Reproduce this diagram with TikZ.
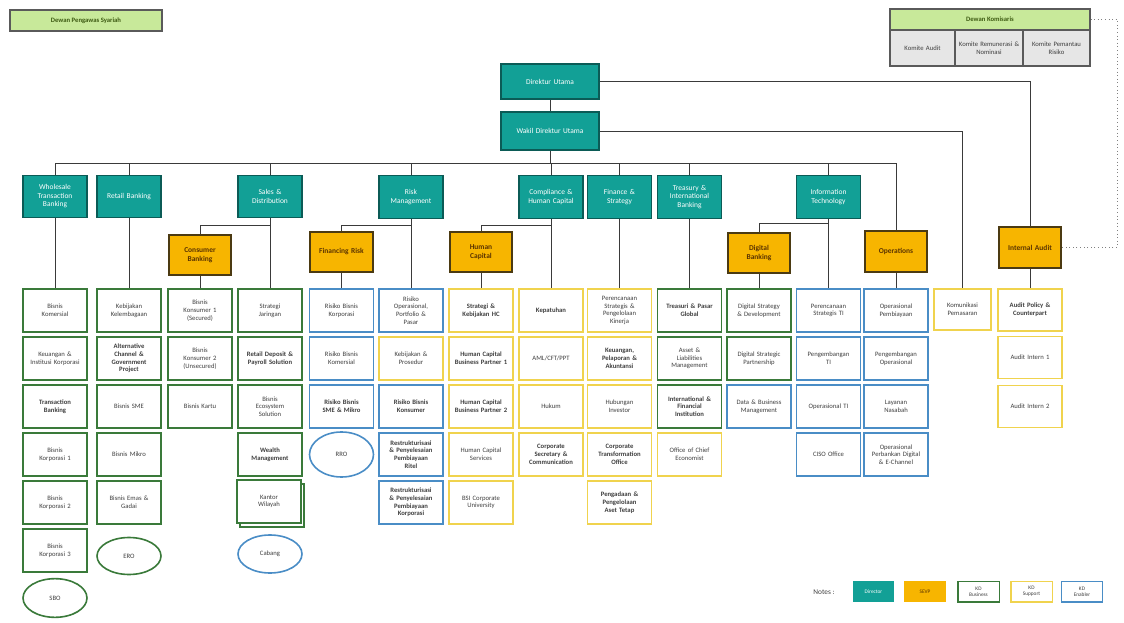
\documentclass[tikz,border=0pt]{standalone}
\usepackage{fontspec}
\setmainfont{Carlito}
\usepackage{xcolor}
\usetikzlibrary{shapes.geometric,shadows}

\definecolor{dirteal}{HTML}{12A096}
\definecolor{dirline}{HTML}{0B5B56}
\definecolor{sevpgold}{HTML}{F7B500}
\definecolor{sevpline}{HTML}{4B3A12}
\definecolor{sevptext}{HTML}{5A3300}
\definecolor{bizline}{HTML}{3A7A3A}
\definecolor{supline}{HTML}{F0D34E}
\definecolor{enaline}{HTML}{4A8DC6}
\definecolor{unittext}{HTML}{3F3F3F}
\definecolor{dpsgreen}{HTML}{C8E99A}
\definecolor{dpstext}{HTML}{3D5A12}
\definecolor{komgray}{HTML}{E6E6E6}
\definecolor{komline}{HTML}{5A5A5A}
\definecolor{linegray}{HTML}{3A3A3A}

\newcommand{\unitfont}{\fontsize{5}{5.8}\selectfont}
\newcommand{\headfont}{\fontsize{5.6}{6.4}\selectfont}
\newcommand{\legendfont}{\fontsize{4}{4.6}\selectfont}

\tikzset{
  unitbox/.style={draw, fill=white, line width=1.3pt, minimum width=48pt, minimum height=32pt, text width=44pt, align=center, inner sep=1pt, font=\unitfont, text=unittext},
  bizbox/.style={unitbox, draw=bizline},
  supbox/.style={unitbox, draw=supline},
  enabox/.style={unitbox, draw=enaline},
  boldtext/.style={font=\unitfont\bfseries},
  unitoval/.style={ellipse, draw, fill=white, line width=1.2pt, minimum width=48pt, minimum height=29pt, inner sep=0pt, font=\unitfont, text=unittext},
  dirbox/.style={draw=dirline, fill=dirteal, line width=0.9pt, minimum width=48pt, minimum height=32pt, text width=44pt, align=center, inner sep=1pt, font=\headfont, text=white},
  sevpbox/.style={draw=sevpline, fill=sevpgold, line width=1.3pt, minimum width=47pt, minimum height=30.5pt, text width=44pt, align=center, inner sep=1pt, font=\headfont\bfseries, text=sevptext},
  legendbox/.style={line width=1pt, minimum width=31pt, minimum height=15.5pt, text width=30pt, align=center, inner sep=0.5pt, font=\legendfont},
  connector/.style={draw=linegray, line width=0.7pt},
}

\begin{document}
\begin{tikzpicture}[x=0.75pt,y=0.75pt,yscale=-1,xscale=1]
\useasboundingbox (0,0) rectangle (1124,623);

% Text Node
\node[draw=komline, fill=dpsgreen, line width=0.8pt, minimum width=114pt, minimum height=15.75pt, font=\unitfont\bfseries, text=dpstext] (dps) at (86,20.5) {Dewan Pengawas Syariah};
% Text Node
\node[draw=komline, fill=dpsgreen, line width=0.8pt, minimum width=150pt, minimum height=15.75pt, font=\unitfont\bfseries, text=dpstext] (dkom) at (990,19.5) {Dewan Komisaris};
\node[draw=komline, fill=komgray, line width=0.8pt, minimum width=48.75pt, minimum height=27pt, text width=46pt, align=center, inner sep=0.5pt, font=\unitfont, text=unittext] (kaud) at (922.5,48) {Komite Audit};
\node[draw=komline, fill=komgray, line width=0.8pt, minimum width=51pt, minimum height=27pt, text width=49pt, align=center, inner sep=0.5pt, font=\unitfont, text=unittext] (krem) at (989,48) {Komite Remunerasi \&\\Nominasi};
\node[draw=komline, fill=komgray, line width=0.8pt, minimum width=50.25pt, minimum height=27pt, text width=48pt, align=center, inner sep=0.5pt, font=\unitfont, text=unittext] (kpr) at (1056.5,48) {Komite Pemantau\\Risiko};

% Text Node
\node[dirbox, minimum width=73.5pt, minimum height=26.25pt, text width=70pt] (dirut) at (550,81.5) {Direktur Utama};
\node[dirbox, minimum width=73.5pt, minimum height=28.5pt, text width=70pt] (wadirut) at (550,131) {Wakil Direktur Utama};

% Text Node
\node[dirbox] (wtb) at (55,196.5) {Wholesale\\Transaction\\Banking};
\node[dirbox] (rtb) at (129,196.5) {Retail Banking};
\node[dirbox] (snd) at (270,196.5) {Sales \&\\Distribution};
\node[dirbox] (rsk) at (411,197) {Risk\\Management};
\node[dirbox] (chc) at (551,197) {Compliance \&\\Human Capital};
\node[dirbox] (fns) at (619.5,197) {Finance \&\\Strategy};
\node[dirbox] (tib) at (689.5,197) {Treasury \&\\International\\Banking};
\node[dirbox] (itd) at (828.5,197) {Information\\Technology};

% Text Node
\node[sevpbox] (csb) at (200,255) {Consumer\\Banking};
\node[sevpbox] (fnr) at (341.5,252) {Financing Risk};
\node[sevpbox] (hmc) at (481,252) {Human\\Capital};
\node[sevpbox] (dgb) at (759,253) {Digital\\Banking};
\node[sevpbox] (ops) at (896,251.5) {Operations};
\node[sevpbox] (iad) at (1030,247.5) {Internal Audit};

% Text Node
\node[bizbox] (bkom) at (55,310.5) {Bisnis\\Komersial};
\node[bizbox] (kik) at (55,358.5) {Keuangan \&\\Institusi Korporasi};
\node[bizbox, boldtext] (trb) at (55,406.5) {Transaction\\Banking};
\node[bizbox] (bkor1) at (55,454.5) {Bisnis\\Korporasi 1};
\node[bizbox] (bkor2) at (55,502.5) {Bisnis\\Korporasi 2};
\node[bizbox] (bkor3) at (55,550.5) {Bisnis\\Korporasi 3};
\node[unitoval, draw=bizline] (sbo) at (55,598) {SBO};
% Text Node
\node[bizbox] (kkl) at (129,310.5) {Kebijakan\\Kelembagaan};
\node[bizbox, boldtext] (acg) at (129,358.5) {Alternative\\Channel \&\\Government\\Project};
\node[bizbox] (bsme) at (129,406.5) {Bisnis SME};
\node[bizbox] (bmik) at (129,454.5) {Bisnis Mikro};
\node[bizbox] (beg) at (129,502.5) {Bisnis Emas \&\\Gadai};
\node[unitoval, draw=bizline, minimum height=27.75pt] (ero) at (129,556) {ERO};
% Text Node
\node[bizbox] (bkon1) at (200,310.5) {Bisnis\\Konsumer 1\\(Secured)};
\node[bizbox] (bkon2) at (200,358.5) {Bisnis\\Konsumer 2\\(Unsecured)};
\node[bizbox] (bkar) at (200,406.5) {Bisnis Kartu};
% Text Node
\node[bizbox] (sjr) at (270,310.5) {Strategi\\Jaringan};
\node[bizbox, boldtext] (rdp) at (270,358.5) {Retail Deposit \&\\Payroll Solution};
\node[bizbox] (bes) at (270,406.5) {Bisnis\\Ecosystem\\Solution};
\node[bizbox, boldtext] (wlm) at (270,454.5) {Wealth\\Management};
\node[bizbox, copy shadow={shadow xshift=2.5pt, shadow yshift=-3pt, draw=bizline, fill=white, line width=1.3pt}] (kwl) at (269,501.5) {Kantor\\Wilayah};
\node[unitoval, draw=enaline, minimum height=28.5pt] (cbg) at (270,554) {Cabang};

% Text Node
\node[enabox] (rbk) at (341.5,310.5) {Risiko Bisnis\\Korporasi};
\node[enabox] (rbm) at (341.5,358.5) {Risiko Bisnis\\Komersial};
\node[enabox, boldtext] (rbs) at (341.5,406.5) {Risiko Bisnis\\SME \& Mikro};
\node[unitoval, draw=enaline, minimum height=33.75pt] (rro) at (341.5,454.5) {RRO};
% Text Node
\node[enabox] (rop) at (411,310.5) {Risiko\\Operasional,\\Portfolio \&\\Pasar};
\node[supbox] (kbp) at (411,358.5) {Kebijakan \&\\Prosedur};
\node[enabox, boldtext] (rbkn) at (411,406.5) {Risiko Bisnis\\Konsumer};
\node[enabox, boldtext] (rpr) at (411,454.5) {Restrukturisasi\\\& Penyelesaian\\Pembiayaan\\Ritel};
\node[enabox, boldtext] (rpk) at (411,502.5) {Restrukturisasi\\\& Penyelesaian\\Pembiayaan\\Korporasi};
% Text Node
\node[supbox, boldtext] (skh) at (481,310.5) {Strategi \&\\Kebijakan HC};
\node[supbox, boldtext] (hbp1) at (481,358.5) {Human Capital\\Business Partner 1};
\node[supbox, boldtext] (hbp2) at (481,406.5) {Human Capital\\Business Partner 2};
\node[supbox] (hcs) at (481,454.5) {Human Capital\\Services};
\node[supbox] (bcu) at (481,502.5) {BSI Corporate\\University};
% Text Node
\node[supbox, boldtext] (kpt) at (551,310.5) {Kepatuhan};
\node[supbox] (aml) at (551,358.5) {AML/CFT/PPT};
\node[supbox] (hkm) at (551,406.5) {Hukum};
\node[supbox, boldtext] (csc) at (551,454.5) {Corporate\\Secretary \&\\Communication};
% Text Node
\node[supbox] (psp) at (619.5,310.5) {Perencanaan\\Strategis \&\\Pengelolaan\\Kinerja};
\node[supbox, boldtext] (kpa) at (619.5,358.5) {Keuangan,\\Pelaporan \&\\Akuntansi};
\node[supbox] (hiv) at (619.5,406.5) {Hubungan\\Investor};
\node[supbox, boldtext] (cto) at (619.5,454.5) {Corporate\\Transformation\\Office};
\node[supbox, boldtext] (ppa) at (619.5,502.5) {Pengadaan \&\\Pengelolaan\\Aset Tetap};
% Text Node
\node[bizbox, boldtext] (tpg) at (689.5,310.5) {Treasuri \& Pasar\\Global};
\node[bizbox] (alm) at (689.5,358.5) {Asset \&\\Liabilities\\Management};
\node[bizbox, boldtext] (ifi) at (689.5,406.5) {International \&\\Financial\\Institution};
\node[supbox] (oce) at (689.5,454.5) {Office of Chief\\Economist};
% Text Node
\node[bizbox] (dsd) at (759,310.5) {Digital Strategy\\\& Development};
\node[bizbox] (dsp) at (759,358.5) {Digital Strategic\\Partnership};
\node[enabox] (dbm) at (759,406.5) {Data \& Business\\Management};
% Text Node
\node[enabox] (pst) at (828.5,310.5) {Perencanaan\\Strategis TI};
\node[enabox] (pti) at (828.5,358.5) {Pengembangan\\TI};
\node[enabox] (oti) at (828.5,406.5) {Operasional TI};
\node[enabox] (ciso) at (828.5,454.5) {CISO Office};
% Text Node
\node[enabox] (opb) at (896,310.5) {Operasional\\Pembiayaan};
\node[enabox] (pgo) at (896,358.5) {Pengembangan\\Operasional};
\node[enabox] (lyn) at (896,406.5) {Layanan\\Nasabah};
\node[enabox] (opd) at (896,454.5) {Operasional\\Perbankan Digital\\\& E-Channel};
% Text Node
\node[supbox, minimum width=42.75pt, minimum height=30.75pt, text width=40pt] (kmp) at (962.5,309.5) {Komunikasi\\Pemasaran};
% Text Node
\node[supbox, boldtext, minimum height=31.5pt] (apc) at (1030,310) {Audit Policy \&\\Counterpart};
\node[supbox, minimum height=31.5pt] (ai1) at (1030,357.5) {Audit Intern 1};
\node[supbox, minimum height=31.5pt] (ai2) at (1030,406.5) {Audit Intern 2};

% Text Node
\node[font=\fontsize{5.5}{6}\selectfont, text=unittext] (notes) at (824,592) {Notes :};
\node[legendbox, fill=dirteal, text=white] (lgdir) at (873.5,591.5) {Director};
\node[legendbox, fill=sevpgold, text=sevptext] (lgsevp) at (925,591.5) {SEVP};
\node[legendbox, draw=bizline, fill=white, text=unittext] (lgbiz) at (978.5,591.5) {KD\\Business};
\node[legendbox, draw=supline, fill=white, text=unittext] (lgsup) at (1031.5,591.5) {KD\\Support};
\node[legendbox, draw=enaline, fill=white, text=unittext] (lgena) at (1082,591.5) {KD\\Enabler};

%Straight Lines
\coordinate (busmid) at (550,163);
\draw[connector] (dirut) -- (wadirut);
\draw[connector] (dirut.east) -| (iad.north);
\draw[connector] (wadirut.east) -| (kmp.north);
\draw[connector] (wadirut.south) -- (busmid);
\draw[connector] (wtb.north) |- (busmid);
\draw[connector] (busmid) -| (ops.north);
\draw[connector] (rtb.north) -- (rtb.north |- busmid);
\draw[connector] (snd.north) -- (snd.north |- busmid);
\draw[connector] (rsk.north) -- (rsk.north |- busmid);
\draw[connector] (chc.north) -- (chc.north |- busmid);
\draw[connector] (fns.north) -- (fns.north |- busmid);
\draw[connector] (tib.north) -- (tib.north |- busmid);
\draw[connector] (itd.north) -- (itd.north |- busmid);
\draw[dotted, draw=gray, line width=0.7pt] (dkom.east) -- ++(27,0) |- (iad.east);

%Straight Lines
\draw[connector] (snd.south) -- ++(0,7) -| (csb.north);
\draw[connector] (rsk.south) -- ++(0,7) -| (fnr.north);
\draw[connector] (chc.south) -- ++(0,7) -| (hmc.north);
\draw[connector] (itd.south) -- ++(0,5) -| (dgb.north);

%Straight Lines
\draw[connector] (wtb.south) -- (bkom.north);
\draw[connector] (rtb.south) -- (kkl.north);
\draw[connector] (csb.south) -- (bkon1.north);
\draw[connector] (snd.south) -- (sjr.north);
\draw[connector] (fnr.south) -- (rbk.north);
\draw[connector] (rsk.south) -- (rop.north);
\draw[connector] (hmc.south) -- (skh.north);
\draw[connector] (chc.south) -- (kpt.north);
\draw[connector] (fns.south) -- (psp.north);
\draw[connector] (tib.south) -- (tpg.north);
\draw[connector] (dgb.south) -- (dsd.north);
\draw[connector] (itd.south) -- (pst.north);
\draw[connector] (ops.south) -- (opb.north);
\draw[connector] (iad.south) -- (apc.north);

\end{tikzpicture}
\end{document}
